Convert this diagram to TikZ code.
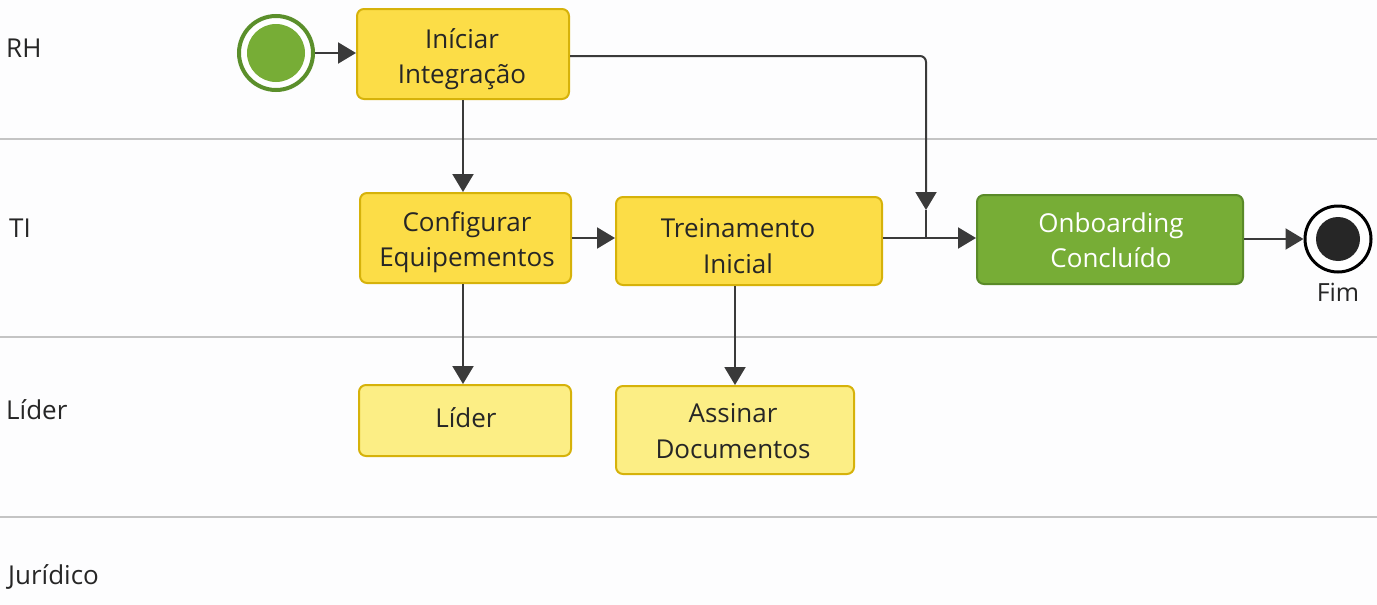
\documentclass[tikz,border=0pt]{standalone}
\usepackage{fontspec}
\setmainfont{Open Sans}
\usetikzlibrary{arrows.meta,calc}
\definecolor{bg}{HTML}{FDFDFE}
\definecolor{lanegray}{HTML}{C4C4C4}
\definecolor{ylfill}{HTML}{FCDD47}
\definecolor{ylborder}{HTML}{D6B20A}
\definecolor{ltfill}{HTML}{FCEE85}
\definecolor{grfill}{HTML}{77AD36}
\definecolor{grborder}{HTML}{5A8A28}
\definecolor{grdark}{HTML}{5B8F2B}
\definecolor{txt}{HTML}{262626}
\definecolor{conn}{HTML}{3A3A3A}
\tikzset{
  x=1pt,y=-1pt,
  tasktext/.style={text=txt,align=center,font=\fontsize{26}{35.5}\selectfont,inner sep=0pt},
  taskbox/.style={tasktext,draw=ylborder,fill=ylfill,line width=2pt,rounded corners=7pt},
  lightbox/.style={taskbox,fill=ltfill},
  greenbox/.style={taskbox,draw=grborder,fill=grfill,text=white},
  lanelabel/.style={anchor=west,text=txt,font=\fontsize{26}{30}\selectfont,inner sep=0pt},
  flow/.style={draw=conn,line width=2pt,-{Triangle[length=18pt,width=21pt]}},
  plain/.style={draw=conn,line width=2pt},
}
\begin{document}
\begin{tikzpicture}
\fill[bg] (0,0) rectangle (1377,605);
\useasboundingbox (0,0) rectangle (1377,605);
% lanes
\foreach \yy in {139,337,517} \draw[lanegray,line width=1.5pt] (0,\yy) -- (1377,\yy);
\node[lanelabel] (lrh) at (6,48) {RH};
\node[lanelabel] (lti) at (9,228) {TI};
\node[lanelabel] (lli) at (6,410) {Líder};
\node[lanelabel] (lju) at (8,577) {Jurídico};
% start event
\node[circle,draw=grdark,line width=4pt,fill=white,minimum size=74pt,inner sep=0pt] (start) at (276,53) {};
\fill[grfill] (start.center) circle (29);
% tasks
\node[taskbox,minimum width=212pt,minimum height=90pt] (ini) at (463,54) {};
\node[tasktext] (init) at (462,59) {Iníciar\\Integração};
\node[taskbox,minimum width=211pt,minimum height=90pt] (cfg) at (465.5,238) {};
\node[tasktext] (cfgt) at (467,242) {Configurar\\Equipementos};
\node[taskbox,minimum width=266pt,minimum height=88pt] (tre) at (749,241) {};
\node[tasktext] (tret) at (738,246) {Treinamento\\Inicial};
\node[greenbox,minimum width=266pt,minimum height=89pt] (onb) at (1110,239.5) {};
\node[tasktext,text=white] (onbt) at (1111,240) {Onboarding\\Concluído};
\node[lightbox,minimum width=212pt,minimum height=71pt] (lid) at (465,420.5) {};
\node[tasktext] (lidt) at (466,418) {Líder};
\node[lightbox,minimum width=238pt,minimum height=88pt] (ass) at (735,430) {};
\node[tasktext] (asst) at (733,431) {Assinar\\Documentos};
% end event
\node[circle,draw=black,line width=3pt,fill=white,minimum size=66pt,inner sep=0pt] (fim) at (1338,239) {};
\fill[black!85] (fim.center) circle (22);
\node[text=txt,font=\fontsize{25}{30}\selectfont,inner sep=0pt] (fiml) at (1338,292) {Fim};
% connectors
\draw[flow] (start.east) -- (ini.west |- start.east);
\draw[flow] (ini.south -| 463,0) -- (cfg.north -| 463,0);
\coordinate (jn) at (926,238);
\coordinate (jtip) at (926,210);
\draw[flow,rounded corners=6pt] (ini.east |- 0,56) -- (926,56) -- (jtip);
\draw[plain] (jtip) -- (jn);
\draw[flow] (cfg.east |- 0,238) -- (tre.west |- 0,238);
\draw[flow] (tre.east |- 0,238) -- (onb.west |- 0,238);
\draw[flow] (onb.east |- fim.west) -- (fim.west);
\draw[flow] (cfg.south -| 463,0) -- (lid.north -| 463,0);
\draw[flow] (tre.south -| 735,0) -- (ass.north -| 735,0);
\end{tikzpicture}
\end{document}
